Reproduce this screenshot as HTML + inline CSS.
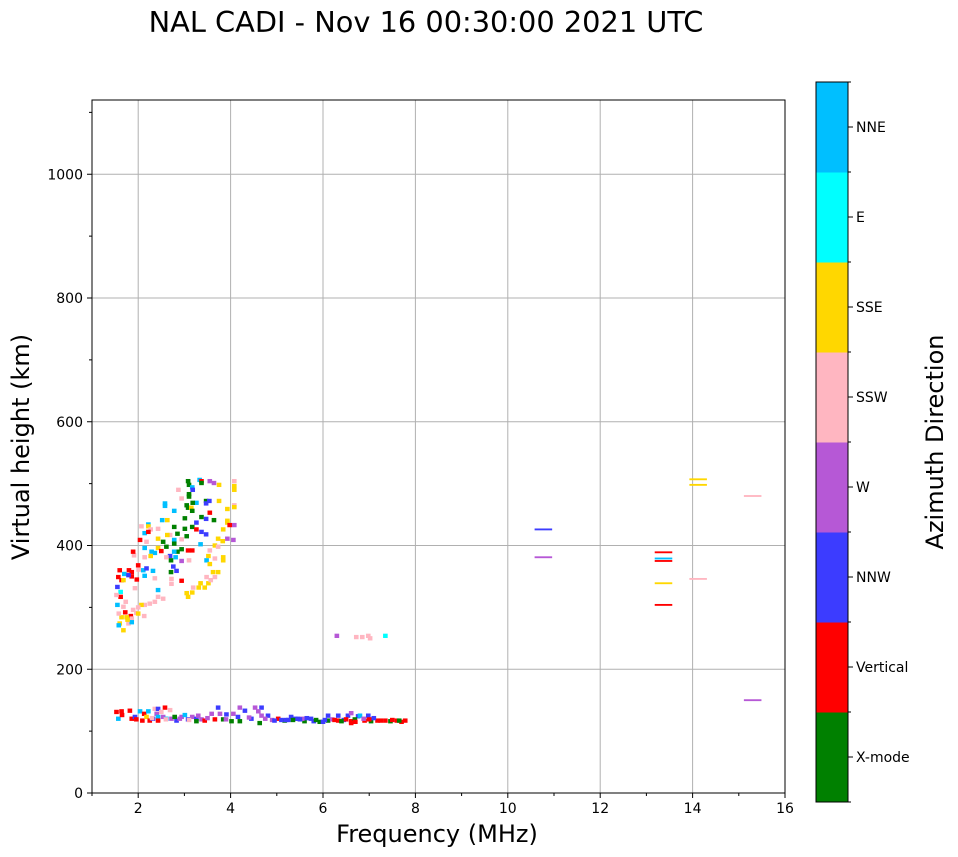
<!DOCTYPE html>
<html><head><meta charset="utf-8"><style>
body{margin:0;background:#fff;}
svg{display:block;font-family:"DejaVu Sans","Liberation Sans",sans-serif;}
</style></head><body>
<svg id="chart" width="958" height="857" xmlns="http://www.w3.org/2000/svg">
<text x="426" y="32" font-size="28.8" text-anchor="middle">NAL CADI - Nov 16 00:30:00 2021 UTC</text>
<g id="grid"></g>
<g id="marks"></g>
<rect x="92" y="100" width="693" height="693" fill="none" stroke="#000" stroke-width="1"/>
<g id="axes"></g>
<text x="437" y="842" font-size="24" text-anchor="middle">Frequency (MHz)</text>
<text transform="translate(29,447) rotate(-90)" font-size="24" text-anchor="middle">Virtual height (km)</text>
<g id="cbar"></g>
<text transform="translate(943,442) rotate(-90)" font-size="24" text-anchor="middle">Azimuth Direction</text>
</svg>
<script>
const categories=["X-mode","Vertical","NNW","W","SSW","SSE","E","NNE"];
const catColors=["#008000","#ff0000","#3c3cff","#b658d6","#ffb6c1","#ffd700","#00ffff","#00bfff"];
const xTicks=[2,4,6,8,10,12,14,16];
const yTicks=[0,200,400,600,800,1000];
// cluster cells: freq (MHz), height (km), category index
const cellFreq=[3.33,3.37,3.37,3.55,3.64,3.75,4.08,4.08,4.08,3.08,3.10,3.17,3.18,2.87,3.10,3.10,2.94,3.47,3.47,3.54,3.75,3.26,3.18,3.05,3.08,3.15,4.08,4.08,2.58,2.58,3.93,3.17,3.55,2.78,3.01,3.37,3.47,3.64,2.52,2.63,3.93,3.93,4.08,3.98,2.22,2.22,2.43,2.78,3.17,3.01,3.26,3.26,3.84,2.07,2.27,3.37,3.47,2.14,2.69,2.22,2.85,2.63,3.05,2.94,2.78,2.54,2.43,2.78,3.93,4.06,3.73,3.83,2.04,2.18,2.14,2.29,2.43,2.61,3.35,3.66,3.55,3.73,2.94,2.85,3.08,3.17,2.78,2.36,2.50,2.69,2.71,3.52,3.48,3.55,3.66,3.84,3.84,3.10,2.61,2.94,2.81,2.27,2.14,1.91,1.89,
1.86,1.86,1.80,1.97,2.11,2.18,2.14,2.32,2.36,2.76,2.83,2.71,2.72,2.72,2.94,3.35,3.44,3.31,3.52,3.48,3.66,3.73,3.62,3.57,3.05,3.08,3.17,3.19,2.43,2.54,2.43,2.36,2.25,2.14,2.07,2.00,1.89,1.96,1.84,1.86,2.00,2.13,1.68,1.73,1.55,1.62,1.55,1.64,1.60,1.68,1.70,1.64,1.60,1.58,1.68,1.79,1.86,1.75,1.57,1.79,2.01,1.93,2.00,1.62,1.72,1.77,1.53,1.58,
1.53,1.64,1.57,1.65,1.82,1.86,1.93,1.96,2.04,2.13,2.22,2.09,2.18,2.25,2.36,2.43,2.58,2.50,2.40,2.69,2.32,2.43,2.54,2.43,2.61,2.72,2.83,2.79,2.94,3.01,3.08,3.17,3.26,3.26,3.37,3.44,3.59,3.73,3.77,3.66,3.84,3.91,4.06,4.02,4.16,4.20,4.20,4.31,4.45,4.53,4.67,4.60,4.67,4.81,4.63,4.75,5.03,5.17,5.31,5.46,5.60,5.74,5.93,6.11,6.33,6.54,6.76,6.98,6.11,6.33,6.61,6.69,6.61,6.61,6.80,6.90,7.18,7.35,7.46,7.78,7.04,7.60,5.10,5.25,5.40,5.55,5.80,6.04,6.20,6.45,6.88,7.10,2.30,2.60,2.90,3.10,3.30,3.50,3.90,4.40,4.90,
6.30,6.72,6.85,6.98,7.35,7.02,
4.95,5.20,5.35,5.50,5.65,5.85,6.00,6.25,6.40,6.50,6.70,7.00,7.25,7.50,7.70,7.65];
const cellHeight=[506,504,501,504,501,498,504,496,490,504,498,494,490,490,483,479,476,472,468,472,472,469,469,465,461,461,465,462,468,464,459,456,453,456,444,446,443,441,441,441,440,437,433,433,434,431,427,430,430,427,437,426,426,431,426,422,418,420,417,422,419,417,415,410,409,406,411,403,411,409,411,407,409,406,396,390,396,398,402,400,392,398,394,390,392,392,390,388,391,383,376,383,376,370,379,381,376,376,381,375,381,383,381,384,390,
357,350,360,345,360,363,351,359,347,366,359,357,346,338,343,339,332,332,339,349,349,357,357,344,323,317,324,332,317,314,328,309,306,304,304,300,296,291,286,282,290,286,301,309,304,317,333,344,360,344,354,284,274,271,263,274,276,284,349,352,361,331,368,325,292,280,320,290,
131,132,120,126,133,120,123,119,132,128,132,117,123,117,136,136,138,131,128,134,120,123,123,117,120,120,117,123,123,126,119,123,120,116,119,117,128,138,128,119,119,127,128,116,123,116,138,133,120,138,138,132,125,125,113,120,120,117,123,120,116,120,115,125,125,125,124,125,117,117,116,119,113,129,125,117,117,117,116,117,116,117,118,118,120,120,116,118,119,118,120,121,121,119,120,118,125,121,119,122,118,
254,252,252,254,254,250,
117,118,118,119,121,118,115,118,116,119,115,119,117,118,115,117];
const cellCat=[7,1,0,3,3,5,4,5,5,0,0,7,2,4,0,0,4,0,2,2,5,7,0,0,0,5,4,5,7,7,5,0,1,7,0,0,2,0,7,5,5,5,3,1,7,5,4,0,0,0,2,1,5,4,4,2,2,7,4,1,0,5,0,4,7,0,5,0,3,3,5,5,1,4,7,7,5,0,7,5,4,4,0,0,1,1,7,7,1,2,0,5,7,5,4,5,5,4,4,3,7,5,4,4,1,
1,1,1,1,7,2,7,7,4,2,2,0,4,4,1,5,5,5,5,4,4,5,5,4,5,5,5,4,4,4,7,4,4,4,5,4,4,4,1,4,5,4,4,4,7,1,2,1,1,5,7,5,5,7,5,4,7,5,1,2,4,4,1,6,1,5,4,4,
1,1,7,1,1,1,2,1,7,1,7,1,5,1,4,2,1,4,3,4,2,7,3,1,7,3,2,0,3,7,2,3,2,0,3,1,3,2,3,1,0,2,3,0,2,0,3,2,2,3,2,3,3,2,0,3,1,0,2,2,0,2,0,2,2,2,2,2,0,1,1,0,1,3,7,1,1,1,0,1,0,1,2,2,2,3,2,2,3,2,3,2,4,4,3,4,3,3,3,3,3,
3,4,4,4,6,4,
2,2,0,2,2,0,2,1,0,1,1,1,1,1,1,0];
// long segments at high frequencies
const segFreq=[10.77,10.77,13.37,13.37,13.37,13.37,13.37,14.12,14.12,14.12,15.30,15.30];
const segHeight=[426,381,389,379,375,339,304,507,498,346,480,150];
const segCat=[2,3,1,7,1,5,1,5,5,4,4,3];

const NS="http://www.w3.org/2000/svg";
const X0=92,X1=785,Y0=793,Y1=100,XMIN=1,XMAX=16,YMIN=0,YMAX=1120;
function xs(f){return X0+(f-XMIN)/(XMAX-XMIN)*(X1-X0);}
function ys(h){return Y0-(h-YMIN)/(YMAX-YMIN)*(Y0-Y1);}
function mk(tag,attrs,parent){const e=document.createElementNS(NS,tag);for(const k in attrs)e.setAttribute(k,attrs[k]);parent.appendChild(e);return e;}
const grid=document.getElementById('grid'),axes=document.getElementById('axes'),marks=document.getElementById('marks'),cbar=document.getElementById('cbar');
xTicks.forEach(v=>{
  const x=xs(v);
  if(v<XMAX){const g=mk('line',{x1:x,x2:x,y1:Y1,y2:Y0,stroke:'#b0b0b0','stroke-width':1},grid);
  
  }
  mk('line',{x1:x,x2:x,y1:Y0,y2:Y0+5,stroke:'#000'},axes);
  const t=mk('text',{x:x,y:Y0+20,'font-size':14,'text-anchor':'middle'},axes);t.textContent=v;
  
  
});
for(let v=XMIN;v<=XMAX;v++){if(v%2)mk('line',{x1:xs(v),x2:xs(v),y1:Y0,y2:Y0+3,stroke:'#000'},axes);}
yTicks.forEach(v=>{
  const y=ys(v);
  if(v>0){const g=mk('line',{x1:X0,x2:X1,y1:y,y2:y,stroke:'#b0b0b0','stroke-width':1},grid);
  
  }
  mk('line',{x1:X0-5,x2:X0,y1:y,y2:y,stroke:'#000'},axes);
  const t=mk('text',{x:X0-9,y:y+5,'font-size':14,'text-anchor':'end'},axes);t.textContent=v;
  
  
});
for(let v=100;v<YMAX;v+=200){mk('line',{x1:X0-3,x2:X0,y1:ys(v),y2:ys(v),stroke:'#000'},axes);}
const CW=0.1,CH=7;
for(let i=0;i<cellFreq.length;i++){
  const x=xs(cellFreq[i]-CW/2),w=xs(cellFreq[i]+CW/2)-x,y=ys(cellHeight[i]+CH/2),h=ys(cellHeight[i]-CH/2)-y;
  const r=mk('rect',{x:x,y:y,width:w,height:h,fill:catColors[cellCat[i]]},marks);
  
  
}
const SW=0.38,SH=3;
for(let i=0;i<segFreq.length;i++){
  const x=xs(segFreq[i]-SW/2),w=xs(segFreq[i]+SW/2)-x,y=ys(segHeight[i]+SH/2),h=ys(segHeight[i]-SH/2)-y;
  const r=mk('rect',{x:x,y:y,width:w,height:h,fill:catColors[segCat[i]]},marks);
  
  
}
// colorbar
const CBX=816,CBW=32,CBT=82,CBB=802,segH=(CBB-CBT)/categories.length;
categories.forEach((c,i)=>{
  const y=CBB-(i+1)*segH;
  const r=mk('rect',{x:CBX,y:y,width:CBW,height:segH+0.5,fill:catColors[i]},cbar);
  
  
  mk('line',{x1:CBX+CBW,x2:CBX+CBW+5,y1:y+segH/2,y2:y+segH/2,stroke:'#000'},cbar);
  mk('line',{x1:CBX+CBW,x2:CBX+CBW+3,y1:y,y2:y,stroke:'#000'},cbar);
  const t=mk('text',{x:CBX+CBW+8,y:y+segH/2+5,'font-size':14},cbar);t.textContent=c;
  
  
});
mk('line',{x1:CBX+CBW,x2:CBX+CBW+3,y1:CBB,y2:CBB,stroke:'#000'},cbar);
mk('rect',{x:CBX,y:CBT,width:CBW,height:CBB-CBT,fill:'none',stroke:'#000'},cbar);
</script>
</body></html>
